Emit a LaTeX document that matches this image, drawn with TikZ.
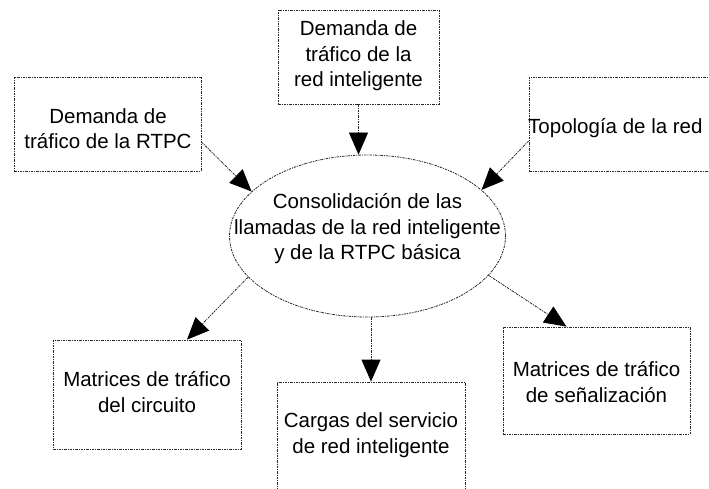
\documentclass[tikz,border=0pt]{standalone}
\usepackage{fontspec}
\setmainfont{Liberation Sans}
\usetikzlibrary{arrows.meta,shapes.geometric}
\begin{document}
\begin{tikzpicture}[x=1pt,y=-1pt,
  ddline/.style={draw=black!85,line width=0.8pt,dash pattern=on 2.5pt off 1pt on 1pt off 1pt},
  boxnode/.style={ddline,rectangle,inner sep=0pt},
  lbl/.style={align=center,inner sep=0pt,font=\fontsize{20.5}{25.5}\selectfont},
  arr/.style={ddline,-{Triangle[length=22pt,width=19pt,color=black]}}]
\useasboundingbox (0,0) rectangle (709,489);
% boxes
\node[boxnode,minimum width=187pt,minimum height=94pt] (b1) at (107.5,124) {};
\node[boxnode,minimum width=161pt,minimum height=94pt] (b2) at (358.5,57) {};
\node[boxnode,minimum width=231pt,minimum height=94pt] (b3) at (644.5,124) {};
\node[boxnode,minimum width=188pt,minimum height=109pt] (b4) at (147,394.5) {};
\node[boxnode,minimum width=188pt,minimum height=140pt] (b5) at (371,452) {};
\node[boxnode,minimum width=187pt,minimum height=107pt] (b6) at (596.5,380.5) {};
\node[ddline,ellipse,minimum width=276pt,minimum height=162pt,inner sep=0pt] (e) at (367.5,236) {};
% labels
\node[lbl] (t1) at (108,128.5) {Demanda de\\tráfico de la RTPC};
\node[lbl] (t2) at (358.5,56) {Demanda de\\tráfico de la\\red inteligente};
\node[lbl,anchor=west] (t3) at (528,128.5) {Topología de la red};
\node[lbl] (t4) at (147,392) {Matrices de tráfico\\del circuito};
\node[lbl] (t5) at (371,435) {Cargas del servicio\\de red inteligente};
\node[lbl] (t6) at (596.5,382) {Matrices de tráfico\\de señalización};
\node[lbl] (te) at (367.5,229) {Consolidación de las\\llamadas de la red inteligente\\y de la RTPC básica};
% connectors
\draw[arr] ([yshift=-18pt]b1.east) -- (e.159);
\draw[arr] (b2.south) -- (b2.south |- e.north);
\draw[arr] ([yshift=-17pt]b3.west) -- (e.22);
\draw[arr] (e.199) -- ([xshift=40pt]b4.north);
\draw[arr] (b5.north |- e.south) -- (b5.north);
\draw[arr] (e.-18) -- ([xshift=-30pt]b6.north);
\end{tikzpicture}
\end{document}
